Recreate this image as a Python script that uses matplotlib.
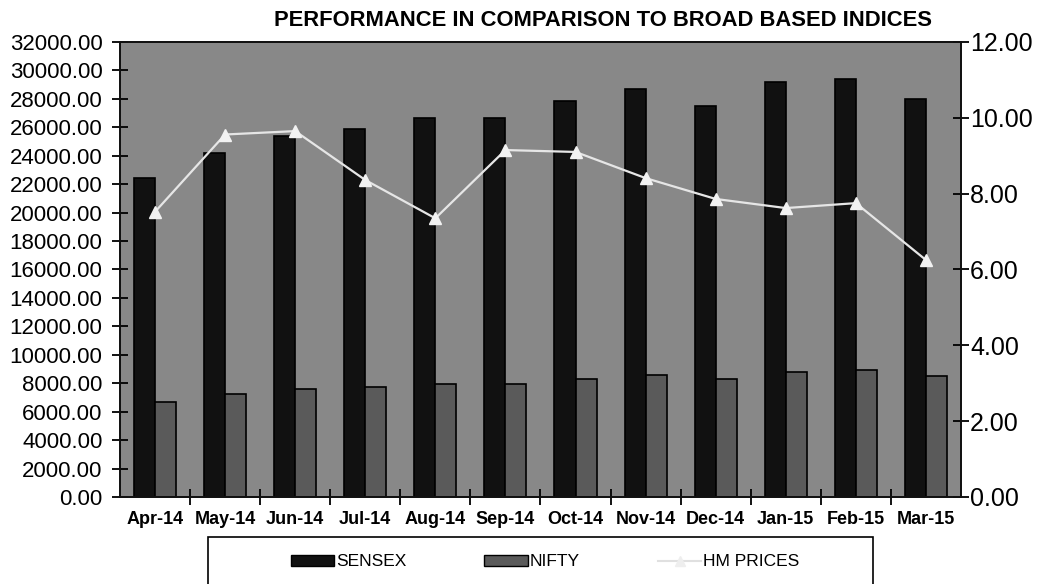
import matplotlib
matplotlib.use("Agg")
import matplotlib.pyplot as plt
import numpy as np
from matplotlib.patches import Rectangle, Patch
from matplotlib.lines import Line2D

# data
months = ["Apr-14", "May-14", "Jun-14", "Jul-14", "Aug-14", "Sep-14",
          "Oct-14", "Nov-14", "Dec-14", "Jan-15", "Feb-15", "Mar-15"]
sensex = [22418, 24217, 25414, 25895, 26638, 26631,
          27866, 28694, 27499, 29183, 29362, 27957]
nifty = [6696, 7230, 7611, 7721, 7954, 7965,
         8322, 8588, 8283, 8809, 8902, 8491]
hm_prices = [7.52, 9.56, 9.65, 8.36, 7.35, 9.15,
             9.10, 8.41, 7.86, 7.62, 7.75, 6.25]

plt.rcParams["font.family"] = ["Liberation Sans", "DejaVu Sans"]

fig = plt.figure(figsize=(10.44, 5.84), dpi=100)
ax = fig.add_axes([0.1149, 0.1490, 0.8056, 0.7791])
ax.set_facecolor("#888888")

x = np.arange(len(months))
w = 0.30
ax.bar(x - 0.15, sensex, w, color="#111111", edgecolor="#000000", linewidth=1.2, zorder=2)
ax.bar(x + 0.15, nifty, w, color="#5a5a5a", edgecolor="#000000", linewidth=1.2, zorder=2)

ax.set_xlim(-0.5, len(months) - 0.5)
ax.set_ylim(0, 32000)
ax.set_yticks(np.arange(0, 32001, 2000))
ax.set_yticklabels([f"{v:.2f}" for v in np.arange(0, 32001, 2000)])
ax.tick_params(axis="y", direction="inout", length=11, width=1.3, labelsize=16, pad=7)

# x ticks at category boundaries, labels at centres
ax.set_xticks(np.arange(0.5, len(months) - 0.5, 1))
ax.set_xticklabels([])
ax.set_xticks(x, minor=True)
ax.set_xticklabels(months, minor=True, fontsize=13, fontweight="bold")
ax.tick_params(axis="x", which="major", direction="inout", length=11, width=1.3)
ax.tick_params(axis="x", which="minor", length=0, pad=10)

for s in ax.spines.values():
    s.set_linewidth(1.3)
    s.set_color("#111111")

ax2 = ax.twinx()
ax2.plot(x, hm_prices, color="#e6e6e6", linewidth=1.6, marker="^",
         markersize=9, markerfacecolor="#f2f2f2", markeredgecolor="#f2f2f2", zorder=3)
ax2.set_ylim(0, 12)
ax2.set_yticks(np.arange(0, 12.01, 2))
ax2.set_yticklabels([f"{v:.2f}" for v in np.arange(0, 12.01, 2)])
ax2.tick_params(axis="y", direction="inout", length=11, width=1.3, labelsize=18, pad=1)
for s in ax2.spines.values():
    s.set_linewidth(1.3)
    s.set_color("#111111")

fig.text(0.578, 1 - 20 / 584, "PERFORMANCE IN COMPARISON TO BROAD BASED INDICES",
         ha="center", va="center", fontsize=15.8, fontweight="bold")

# legend box, cut off by the bottom of the image
fig.patches.append(Rectangle((208 / 1044, -0.05), 665 / 1044, (584 - 537) / 584 + 0.05,
                             transform=fig.transFigure, facecolor="white",
                             edgecolor="black", linewidth=1.2, zorder=0))
handles = [Patch(facecolor="#111111", edgecolor="black", label="SENSEX"),
           Patch(facecolor="#5a5a5a", edgecolor="black", label="NIFTY"),
           Line2D([], [], color="#e0e0e0", marker="^", markersize=7,
                  markerfacecolor="#eeeeee", markeredgecolor="#eeeeee", label="HM PRICES")]
fig.legend(handles=handles, loc="center", bbox_to_anchor=(545 / 1044, 1 - 562 / 584),
           ncol=3, frameon=False, fontsize=12.5, handlelength=2.5, handleheight=0.6,
           handletextpad=0.1, columnspacing=4.5)

fig.savefig("out.png", dpi=100)
